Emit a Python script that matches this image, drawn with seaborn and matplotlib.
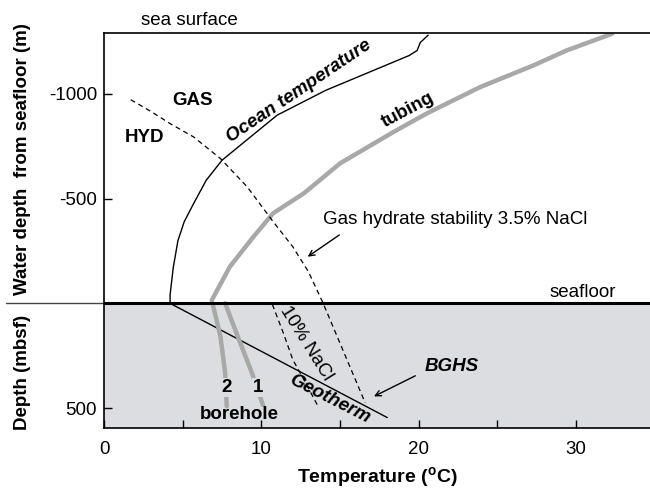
import matplotlib
matplotlib.use('Agg')
import matplotlib.pyplot as plt
import seaborn as sns
import pandas as pd

# Temperature (degC) / depth (m, negative = water column above seafloor)
ocean_t = [20.6, 20.1, 19.9, 19.4, 14.1, 11.0, 8.8, 7.5, 6.5, 5.7, 5.1, 4.7, 4.4, 4.2, 4.2]
ocean_d = [-1280, -1245, -1207, -1183, -1017, -898, -763, -683, -588, -477, -390, -300, -170, -40, 0]

geo_t = [4.2, 18.0]
geo_d = [0, 545]

tubing_t = [32.3, 29.4, 27.3, 23.9, 20.5, 18.4, 15.0, 12.7, 10.75, 9.5, 8.0, 6.85]
tubing_d = [-1287, -1207, -1136, -1032, -906, -818, -668, -525, -430, -318, -175, -15]

bh2_t = [6.9, 7.4, 7.7, 7.8]
bh2_d = [0, 158, 332, 491]
bh1_t = [7.7, 8.5, 9.4, 10.1]
bh1_d = [0, 158, 332, 485]

hyd35_t = [1.7, 3.0, 4.2, 5.7, 7.4, 9.1, 10.75, 12.0, 13.0, 13.9, 16.6]
hyd35_d = [-972, -915, -858, -794, -691, -556, -390, -270, -150, -5, 475]

hyd10_t = [10.7, 11.4, 12.0, 12.7, 13.6]
hyd10_d = [5, 142, 269, 364, 491]

x_major = [0, 10, 20, 30]
x_minor = [5, 15, 25]
y_ticks = [-1000, -500, 500]

sns.set_style('white')
plt.rcParams['font.family'] = ['Liberation Sans', 'DejaVu Sans']
plt.rcParams['axes.unicode_minus'] = False
plt.rcParams['text.color'] = 'black'
plt.rcParams['xtick.color'] = 'black'
plt.rcParams['ytick.color'] = 'black'
plt.rcParams['axes.labelcolor'] = 'black'

fig = plt.figure(figsize=(6.5, 4.9), dpi=100)
ax = fig.add_axes([0.16, 0.1265, 0.84, 0.806])

# sediment below the seafloor
ax.axhspan(0, 600, color='#dcdde0', zorder=0, lw=0)

def line(t, d, **kw):
    df = pd.DataFrame({'t': t, 'd': d})
    sns.lineplot(data=df, x='t', y='d', sort=False, estimator=None, ax=ax, **kw)

line(ocean_t, ocean_d, color='black', lw=1)
line(geo_t, geo_d, color='black', lw=1)
line(tubing_t, tubing_d, color='#a8a8a8', lw=3.2)
line(bh2_t, bh2_d, color='#a8a8a8', lw=3.2)
line(bh1_t, bh1_d, color='#a8a8a8', lw=3.2)
line(hyd35_t, hyd35_d, color='black', lw=0.9, linestyle=(0, (4, 3)))
line(hyd10_t, hyd10_d, color='black', lw=0.9, linestyle=(0, (4, 3)))

# seafloor line, running out past the axis
ax.plot([0, 34.7], [0, 0], color='black', lw=2.2, zorder=5)
ax.plot([-6.2, 0], [0, 0], color='#444444', lw=1, clip_on=False)

ax.set_xlim(0, 34.7)
ax.set_ylim(595, -1290)
ax.set_xticks(x_major)
ax.set_xticks(x_minor, minor=True)
ax.set_yticks(y_ticks)
ax.set_yticklabels([str(v) for v in y_ticks])
ax.tick_params(axis='both', which='both', direction='in', length=6, width=1,
               labelsize=13.5, color='black', labelcolor='black')
ax.tick_params(axis='x', which='both', pad=9, bottom=True)
ax.tick_params(axis='y', pad=5, left=True)
ax.set_xlabel('')
ax.set_ylabel('')
for s in ['top', 'bottom', 'left']:
    ax.spines[s].set_color('black')
    ax.spines[s].set_linewidth(1.2)
ax.spines['right'].set_visible(False)

fs = 13.5
ax.text(5.4, -1350, 'sea surface', fontsize=fs, ha='center', va='center', clip_on=False)
ax.text(30.4, -50, 'seafloor', fontsize=fs, ha='center', va='center')
ax.text(5.65, -969, 'GAS', fontsize=fs, weight='bold', ha='center', va='center')
ax.text(2.6, -793, 'HYD', fontsize=fs, weight='bold', ha='center', va='center')
ax.text(12.4, -1010, 'Ocean temperature', fontsize=fs, weight='bold', style='italic',
        rotation=34, ha='center', va='center', rotation_mode='anchor')
ax.text(19.3, -921, 'tubing', fontsize=fs, weight='bold', rotation=28,
        ha='center', va='center', rotation_mode='anchor')
ax.text(13.9, -398, 'Gas hydrate stability 3.5% NaCl', fontsize=fs, ha='left', va='center')
ax.annotate('', xy=(12.8, -215), xytext=(15.1, -334),
            arrowprops=dict(arrowstyle='->', color='black', lw=1))
ax.text(12.87, 189, '10% NaCl', fontsize=fs, rotation=-58, ha='center', va='center',
        rotation_mode='anchor')
ax.text(14.35, 455, 'Geotherm', fontsize=fs, weight='bold', style='italic', rotation=-27,
        ha='center', va='center', rotation_mode='anchor')
ax.text(22.1, 302, 'BGHS', fontsize=fs, weight='bold', style='italic', ha='center', va='center')
ax.annotate('', xy=(17.0, 450), xytext=(19.94, 340),
            arrowprops=dict(arrowstyle='->', color='black', lw=1))
bb = dict(facecolor='#dcdde0', edgecolor='none', pad=0.5)
ax.text(7.8, 402, '2', fontsize=fs, weight='bold', ha='center', va='center', bbox=bb)
ax.text(9.78, 402, '1', fontsize=fs, weight='bold', ha='center', va='center', bbox=bb)
ax.text(8.63, 531, 'borehole', fontsize=fs, weight='bold', ha='center', va='center')

fig.text(0.034, 0.675, 'Water depth  from seafloor (m)', fontsize=fs, weight='bold',
         rotation=90, ha='center', va='center')
fig.text(0.034, 0.24, 'Depth (mbsf)', fontsize=fs, weight='bold',
         rotation=90, ha='center', va='center')
fig.text(0.58, 0.025, r'Temperature ($^{\mathregular{o}}$C)', fontsize=14, weight='bold',
         ha='center', va='center')

fig.savefig('out.png', dpi=100)
